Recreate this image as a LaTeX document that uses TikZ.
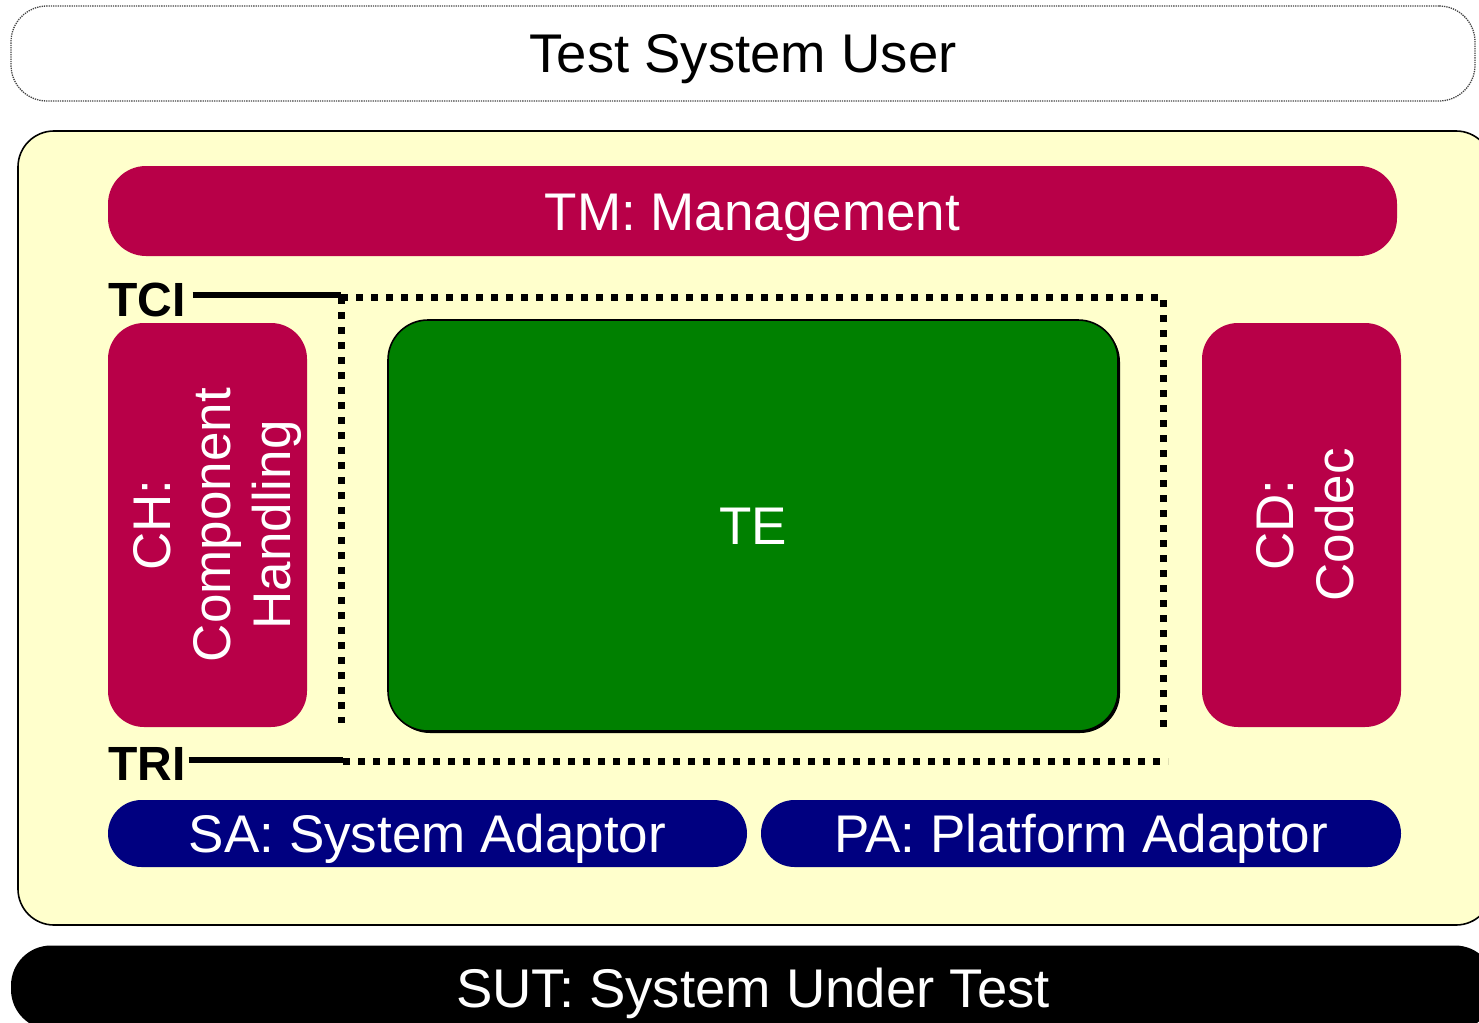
\documentclass[tikz,border=0pt]{standalone}
\usepackage{fontspec}
\setmainfont{Liberation Sans}
\definecolor{crim}{HTML}{B80048}
\definecolor{navyb}{HTML}{000080}
\definecolor{teg}{HTML}{008000}
\definecolor{paleyel}{HTML}{FFFFCC}
\definecolor{dotgray}{HTML}{444444}
\begin{document}
\begin{tikzpicture}[x=1pt,y=-1pt,
  big/.style={font=\fontsize{53}{60}\selectfont, text height=38pt, text depth=0pt},
  bigger/.style={font=\fontsize{54.5}{60}\selectfont, text height=39pt, text depth=0pt},
  lbl/.style={font=\fontsize{48}{52}\bfseries\selectfont, text height=34pt, text depth=0pt, inner sep=0pt},
  block/.style={draw=none, rounded corners=#1, inner sep=0pt, text=white, big},
  block/.default=36pt,
  sidetext/.style={font=\fontsize{53}{60}\selectfont, align=center, text depth=0pt},
  squaredots/.style={line width=7pt, dash pattern=on 7pt off 8pt},
  stub/.style={line width=6pt}]
\useasboundingbox (0,0) rectangle (1479,1022);
\clip (0,0) rectangle (1479,1022);

% user layer
\node[draw=dotgray, densely dotted, line width=1.3pt, rounded corners=36pt, inner sep=0pt,
      minimum width=1464pt, minimum height=95pt, bigger] (user) at (743,53.5) {Test System User};

% test system container
\node[draw=black, line width=1.6pt, fill=paleyel, rounded corners=36pt,
      minimum width=1474pt, minimum height=794pt] (ts) at (755,528) {};

% management
\node[block=38pt, fill=crim, minimum width=1289pt, minimum height=90pt] (tm) at (752.5,211) {TM: Management};

% component handling and codec
\node[draw=none, fill=crim, rounded corners=36pt, inner sep=0pt, text=white, rotate=90,
      minimum width=404pt, minimum height=199pt, sidetext, text height=165pt]
      (ch) at (207.5,525) {CH:\\Component\\Handling};
\node[draw=none, fill=crim, rounded corners=36pt, inner sep=0pt, text=white, rotate=90,
      minimum width=404pt, minimum height=199pt, sidetext, text height=103pt]
      (cd) at (1301.5,525) {CD:\\Codec};

% test executable with a thin offset shadow
\node[fill=black, rounded corners=40pt, minimum width=730pt, minimum height=411pt] (teshadow) at (755,527.5) {};
\node[draw=black, line width=1.6pt, fill=teg, rounded corners=40pt, inner sep=0pt,
      minimum width=730pt, minimum height=411pt, text=white, big] (te) at (753,525.5) {TE};

% adaptors
\node[block=33.5pt, fill=navyb, minimum width=639pt, minimum height=67pt] (sa) at (427.5,833.5) {SA: System Adaptor};
\node[block=33.5pt, fill=navyb, minimum width=640pt, minimum height=67pt] (pa) at (1081,833.5) {PA: Platform Adaptor};

% system under test
\node[fill=black, rounded corners=40pt, inner sep=0pt, minimum width=1484pt, minimum height=84pt,
      text=white, bigger] (sut) at (753,987.5) {SUT: System Under Test};

% interfaces
\node[lbl, anchor=west] (tci) at (108,299) {TCI};
\node[lbl, anchor=west] (tri) at (108,763) {TRI};

\coordinate (tcicorner) at (341,297);
\coordinate (tciright) at (1163,297);
\coordinate (tcirdown) at (1163,728);
\coordinate (tcildown) at (341,723);
\coordinate (tricorner) at (343,761);
\coordinate (triend) at (1168,761);

\draw[stub] ([xshift=7pt]tci.east |- 0,295) -- (tcicorner |- 0,295);
\draw[squaredots] (tcicorner) -- (tciright) -- (tcirdown);
\draw[squaredots] (tcicorner) -- (tcildown);

\draw[stub] ([xshift=3pt]tri.east |- 0,760) -- (tricorner |- 0,760);
\draw[squaredots] (tricorner) -- (triend);
\end{tikzpicture}
\end{document}
